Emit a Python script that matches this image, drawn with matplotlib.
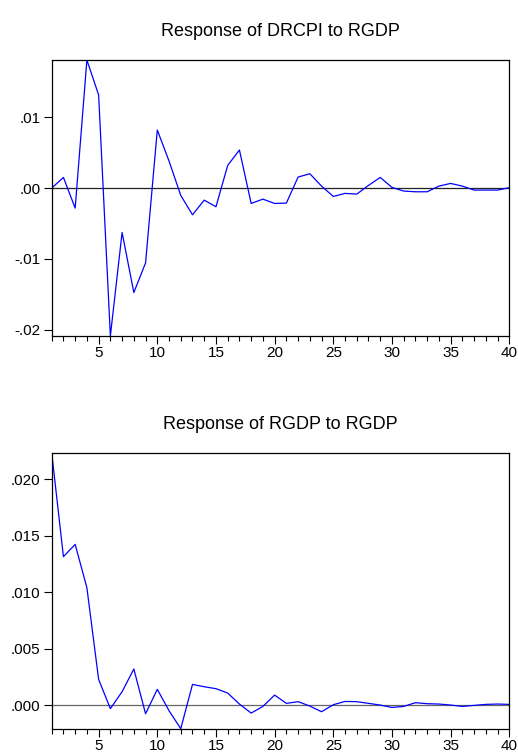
import matplotlib

matplotlib.use("Agg")
import matplotlib.pyplot as plt
from matplotlib.ticker import FixedLocator, FuncFormatter

plt.rcParams["font.family"] = ["Liberation Sans", "DejaVu Sans"]

# impulse response horizons
periods = list(range(1, 41))

# Response of DRCPI to RGDP
drcpi = [
    0.0, 0.00151, -0.00283, 0.0181, 0.01316, -0.0209, -0.00627, -0.01476,
    -0.01057, 0.00821, 0.00382, -0.00104, -0.00377, -0.0017, -0.00264,
    0.00321, 0.00538, -0.00217, -0.00156, -0.00217, -0.00212, 0.00156,
    0.00203, 0.00028, -0.00118, -0.00075, -0.00085, 0.00038, 0.00151,
    0.0001, -0.00042, -0.00052, -0.00052, 0.00028, 0.00066, 0.00028,
    -0.00028, -0.00028, -0.00028, 0.00005,
]

# Response of RGDP to RGDP
rgdp = [
    0.02233, 0.01313, 0.01422, 0.01038, 0.00227, -0.00032, 0.00118, 0.00319,
    -0.00077, 0.00139, -0.0005, -0.00209, 0.00183, 0.00162, 0.00145,
    0.00106, 0.00009, -0.00071, -0.00012, 0.00088, 0.00015, 0.0003,
    -0.00009, -0.00059, 0.00003, 0.00032, 0.0003, 0.00015, 0.0, -0.00021,
    -0.00012, 0.00021, 0.00012, 0.00009, 0.0, -0.00012, -0.00003, 0.00006,
    0.00009, 0.00006,
]

panels = [
    ("Response of DRCPI to RGDP", drcpi, [-0.02, -0.01, 0.0, 0.01],
     (-0.0209, 0.0181), "%.2f", "#222222"),
    ("Response of RGDP to RGDP", rgdp, [0.0, 0.005, 0.01, 0.015, 0.02],
     (-0.00209, 0.02233), "%.3f", "#666666"),
]

fig = plt.figure(figsize=(5.18, 7.53), dpi=100)
boxes = [
    [0.0998, 0.5538, 0.8834, 0.3665],
    [0.0998, 0.0323, 0.8834, 0.3665],
]


def fmt_factory(fmt):
    def f(v, pos):
        s = fmt % v
        if abs(v) < 1e-12:
            s = fmt % 0.0
        return s.replace("0.", ".", 1)
    return f


for box, (title, vals, yticks, ylim, fmt, zcol) in zip(boxes, panels):
    ax = fig.add_axes(box)
    ax.axhline(0, color=zcol, lw=0.9, zorder=1)
    ax.plot(periods, vals, color="#0000ff", lw=0.9, zorder=2)
    ax.set_xlim(1, 40)
    ax.set_ylim(*ylim)
    ax.xaxis.set_major_locator(FixedLocator([5, 10, 15, 20, 25, 30, 35, 40]))
    ax.xaxis.set_minor_locator(FixedLocator(periods))
    ax.yaxis.set_major_locator(FixedLocator(yticks))
    ax.yaxis.set_major_formatter(FuncFormatter(fmt_factory(fmt)))
    ax.tick_params(axis="x", which="major", direction="out", length=5.8,
                   width=0.8, labelsize=11, pad=1.5)
    ax.tick_params(axis="x", which="minor", direction="out", length=3.4,
                   width=0.8)
    ax.tick_params(axis="y", direction="out", length=5.5, width=0.8,
                   labelsize=11, pad=2.5)
    for sp in ax.spines.values():
        sp.set_linewidth(0.9)
    ax.set_title(title, fontsize=13, pad=17)

fig.savefig("out.png", dpi=100)
